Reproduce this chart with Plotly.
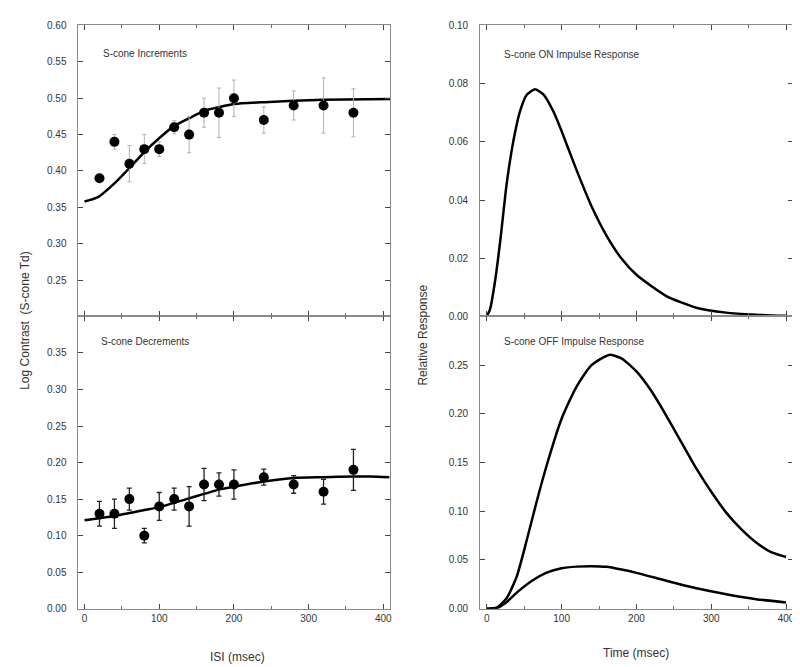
import plotly.graph_objects as go

# ---------------- data ----------------
isi = [20, 40, 60, 80, 100, 120, 140, 160, 180, 200, 240, 280, 320, 360]
inc_vals = [0.39, 0.44, 0.41, 0.43, 0.43, 0.46, 0.45, 0.48, 0.48, 0.50, 0.47, 0.49, 0.49, 0.48]
inc_err = [0.004, 0.01, 0.025, 0.02, 0.01, 0.009, 0.025, 0.02, 0.034, 0.025, 0.018, 0.02, 0.038, 0.033]
dec_vals = [0.13, 0.13, 0.15, 0.10, 0.14, 0.15, 0.14, 0.17, 0.17, 0.17, 0.18, 0.17, 0.16, 0.19]
dec_err = [0.017, 0.02, 0.015, 0.01, 0.019, 0.015, 0.027, 0.022, 0.016, 0.02, 0.011, 0.012, 0.017, 0.028]

inc_fit_x = [0, 18, 40, 61, 80, 101, 120, 141, 161, 181, 201, 241, 280, 320, 409]
inc_fit_y = [0.358, 0.364, 0.383, 0.405, 0.426, 0.446, 0.462, 0.473, 0.483, 0.488, 0.492, 0.4946, 0.4965, 0.498, 0.499]

dec_fit_x = [0, 40, 80, 100, 140, 180, 200, 240, 280, 320, 360, 383, 408]
dec_fit_y = [0.121, 0.127, 0.135, 0.139, 0.151, 0.163, 0.167, 0.174, 0.179, 0.180, 0.181, 0.181, 0.180]

on_t = [0, 4.4, 11, 17.8, 26.7, 35.6, 44.4, 53.3, 64.4, 75.6, 88.9, 100, 120, 140, 160, 180, 200, 240, 280, 320, 360, 400]
on_r = [0.0, 0.0025, 0.012, 0.0255, 0.0458, 0.0604, 0.0705, 0.0761, 0.0781, 0.0763, 0.0705, 0.0637, 0.0503,
        0.0379, 0.0278, 0.0199, 0.0143, 0.007, 0.003, 0.0013, 0.0006, 0.0002]

off_t = [0, 13.3, 26.7, 40, 53.3, 66.7, 80, 100, 120, 140, 163.6, 180, 200, 220, 240, 260, 280, 300, 320, 340, 360, 380, 400]
off_big = [0.0, 0.001, 0.011, 0.033, 0.070, 0.110, 0.147, 0.195, 0.228, 0.250, 0.2605, 0.257, 0.2436, 0.2234,
           0.198, 0.171, 0.144, 0.120, 0.0986, 0.0817, 0.068, 0.058, 0.053]

off2_t = [0, 13, 26.7, 40, 60, 80, 100, 120, 140, 160, 180, 200, 240, 280, 320, 360, 400]
off_small = [0.0, 0.0005, 0.0070, 0.0165, 0.0285, 0.0370, 0.0415, 0.0432, 0.0437, 0.0430, 0.0402, 0.0368, 0.0287,
             0.021, 0.0149, 0.0098, 0.0065]

x_ticks = [0, 100, 200, 300, 400]
y_inc_ticks = [0.25, 0.30, 0.35, 0.40, 0.45, 0.50, 0.55, 0.60]
y_dec_ticks = [0.00, 0.05, 0.10, 0.15, 0.20, 0.25, 0.30, 0.35]
y_on_ticks = [0.00, 0.02, 0.04, 0.06, 0.08, 0.10]
y_off_ticks = [0.00, 0.05, 0.10, 0.15, 0.20, 0.25]

# ---------------- figure ----------------
W, H = 800, 667
FONT = "Liberation Sans, Arial, sans-serif"
TXT = "#333333"
FRAME = "#8a8a8a"
CURVE = dict(color="black", width=2.5, shape="spline", smoothing=0.6)

fig = go.Figure()

fig.add_trace(go.Scatter(x=inc_fit_x, y=inc_fit_y, mode="lines", line=CURVE,
                         xaxis="x", yaxis="y", showlegend=False))
fig.add_trace(go.Scatter(x=isi, y=inc_vals, mode="markers",
                         marker=dict(color="black", size=10),
                         error_y=dict(type="data", array=inc_err, color="#b0b0b0", thickness=1, width=2),
                         xaxis="x", yaxis="y", showlegend=False))

fig.add_trace(go.Scatter(x=dec_fit_x, y=dec_fit_y, mode="lines", line=CURVE,
                         xaxis="x2", yaxis="y2", showlegend=False))
fig.add_trace(go.Scatter(x=isi, y=dec_vals, mode="markers",
                         marker=dict(color="black", size=10),
                         error_y=dict(type="data", array=dec_err, color="#222222", thickness=1.3, width=2.5),
                         xaxis="x2", yaxis="y2", showlegend=False))

fig.add_trace(go.Scatter(x=on_t, y=on_r, mode="lines", line=CURVE,
                         xaxis="x3", yaxis="y3", showlegend=False))
fig.add_trace(go.Scatter(x=off_t, y=off_big, mode="lines", line=CURVE,
                         xaxis="x4", yaxis="y4", showlegend=False))
fig.add_trace(go.Scatter(x=off2_t, y=off_small, mode="lines", line=CURVE,
                         xaxis="x4", yaxis="y4", showlegend=False))

top_dom = [1 - 308.5 / H, 1 - 12.7 / H]
bot_dom = [1 - 605.7 / H, 1 - 308.5 / H]
left_dom = [70 / W, 383 / W]
right_dom = [472.7 / W, 787.3 / W]

def xax(domain, anchor, rng, labels):
    return dict(domain=domain, anchor=anchor, range=rng, tickvals=x_ticks, showticklabels=labels,
                ticks="inside", ticklen=5, tickwidth=1, tickcolor="#444", mirror="ticks",
                showline=True, linecolor=FRAME, linewidth=1, showgrid=False, zeroline=False,
                minor=dict(dtick=50, tick0=0, ticks="inside", ticklen=3, tickcolor="#666", showgrid=False),
                tickfont=dict(family=FONT, size=10, color=TXT))

def yax(domain, anchor, rng, tv, fmt):
    return dict(domain=domain, anchor=anchor, range=rng, tickvals=tv,
                ticktext=[(fmt % v) + "\u00a0\u00a0\u00a0" for v in tv],
                ticks="inside", ticklen=5, tickwidth=1, tickcolor="#444", mirror="ticks",
                showline=True, linecolor=FRAME, linewidth=1, showgrid=False, zeroline=False,
                tickfont=dict(family=FONT, size=10, color=TXT))

fig.update_layout(
    width=W, height=H, margin=dict(l=0, r=0, t=0, b=0),
    paper_bgcolor="white", plot_bgcolor="white",
    xaxis=xax(left_dom, "y", [-9, 409], False),
    yaxis=yax(top_dom, "x", [0.2, 0.6], y_inc_ticks, "%.2f"),
    xaxis2=xax(left_dom, "y2", [-9, 409], True),
    yaxis2=yax(bot_dom, "x2", [0.0, 0.4], y_dec_ticks, "%.2f"),
    xaxis3=xax(right_dom, "y3", [-9.7, 409.7], False),
    yaxis3=yax(top_dom, "x3", [0.0, 0.1], y_on_ticks, "%.2f"),
    xaxis4=xax(right_dom, "y4", [-9.7, 409.7], True),
    yaxis4=yax(bot_dom, "x4", [0.0, 0.3], y_off_ticks, "%.2f"),
    font=dict(family=FONT, color=TXT),
)

def ann(text, x, y, size=10, angle=0, xanchor="left"):
    fig.add_annotation(text=text, x=x / W, y=1 - y / H, xref="paper", yref="paper", showarrow=False,
                       xanchor=xanchor, yanchor="middle", textangle=angle,
                       font=dict(family=FONT, size=size, color=TXT))

ann("S-cone Increments", 93, 41)
ann("S-cone Decrements", 91, 334)
ann("S-cone ON Impulse Response", 495, 42)
ann("S-cone OFF Impulse Response", 495, 334)
ann("Log Contrast  (S-cone Td)", 17, 312, size=12, angle=-90, xanchor="center")
ann("Relative Response", 416, 327, size=12, angle=-90, xanchor="center")
ann("ISI (msec)", 230, 655, size=12, xanchor="center")
ann("Time (msec)", 630, 651, size=12, xanchor="center")

fig.write_html("out.html")
